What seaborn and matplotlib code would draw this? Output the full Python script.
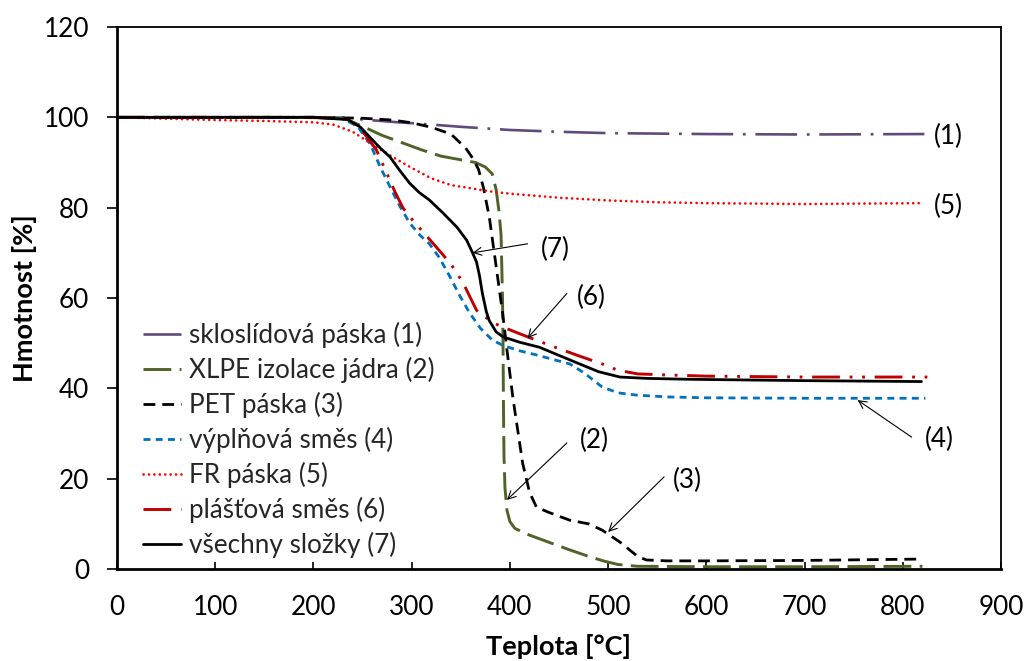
import matplotlib
matplotlib.use("Agg")
import matplotlib.pyplot as plt
import seaborn as sns
import pandas as pd

# ---------------- data ----------------
x1 = [0, 100, 200, 240, 280, 320, 350, 400, 450, 500, 600, 700, 822]
y1 = [100, 100, 99.9, 99.7, 99.0, 98.4, 97.9, 97.2, 96.8, 96.5, 96.3, 96.2, 96.3]

x2 = [0, 100, 200, 230, 250, 270, 290, 310, 330, 350, 365, 375, 382, 386, 389, 391,
      392.5, 393, 393.5, 394, 395, 397, 400, 405, 420, 435, 460, 480, 495, 510, 530,
      600, 700, 820]
y2 = [100, 100, 100, 99.9, 98.0, 96.0, 94.4, 92.8, 91.4, 90.6, 90.0, 89.0, 87.5, 84.0,
      79.0, 74.0, 60, 50, 35, 25, 18, 13, 10.5, 9.0, 7.5, 6.3, 4.3, 2.8, 1.8, 1.0, 0.6,
      0.5, 0.5, 0.6]

x3 = [0, 200, 250, 280, 300, 320, 340, 355, 362, 368, 373, 379, 386, 393, 397, 403,
      413, 420, 427, 440, 461, 480, 494, 505, 515, 522, 530, 539, 560, 600, 700, 820]
y3 = [100, 100, 99.8, 99.4, 98.8, 97.8, 96.3, 93.2, 91.0, 88.5, 84.5, 78, 67, 56, 48.5,
      38, 23.4, 17, 13.7, 12.5, 10.8, 10.0, 8.6, 7.0, 5.5, 4.2, 2.8, 2.0, 1.8, 1.8, 1.9, 2.2]

x4 = [0, 200, 230, 245, 258, 268, 278, 288, 298, 308, 318, 328, 339, 349, 359, 370, 382,
      393, 410, 427, 461, 475, 494, 510, 529, 560, 600, 700, 823]
y4 = [100, 100, 99.7, 98.0, 94, 89, 84.6, 80.3, 76.6, 74.0, 72, 69, 64.7, 60.5, 56.7,
      53.3, 50.7, 49.5, 48.3, 47.4, 45.4, 43.5, 40.3, 39.0, 38.5, 38.1, 37.9, 37.8, 37.8]

x5 = [0, 50, 100, 150, 200, 220, 240, 260, 280, 300, 320, 340, 360, 380, 400, 450, 500,
      550, 600, 700, 817]
y5 = [100, 99.7, 99.4, 99.2, 98.9, 98.4, 96.8, 94.0, 91.3, 88.8, 86.5, 85.0, 84.3, 83.6,
      83.1, 82.2, 81.6, 81.2, 81.0, 80.8, 81.0]

x6 = [0, 200, 230, 245, 255, 264, 275, 283, 291, 300, 310, 325, 340, 352, 366, 383, 397,
      418, 446, 470, 494, 510, 530, 555, 600, 700, 825]
y6 = [100, 100, 99.7, 98.2, 95.5, 92.8, 87.5, 83.5, 80, 77.5, 75, 71.3, 67.5, 63.5, 57.3,
      54.5, 53.2, 51.4, 49.1, 47.2, 45.4, 44.0, 43.2, 43.0, 42.7, 42.5, 42.5]

x7 = [0, 200, 235, 248, 257, 268, 278, 288, 298, 308, 318, 332, 346, 356, 362, 366, 369,
      372, 376, 379, 386, 393, 410, 430, 461, 490, 512, 540, 583, 700, 819]
y7 = [100, 100, 99.5, 97.8, 95.7, 93.2, 91.2, 88.2, 85.4, 83.3, 81.7, 78.8, 75.7, 72.8,
      70.0, 68.0, 65.0, 61.0, 57.0, 55.0, 52.5, 51.4, 50.2, 49.1, 46.3, 43.7, 42.5, 42.2,
      42.0, 41.7, 41.5]

labels = ["skloslídová páska (1)", "XLPE izolace jádra (2)", "PET páska (3)",
          "výplňová směs (4)", "FR páska (5)", "plášťová směs (6)", "všechny složky (7)"]
colors = ["#604A7B", "#4F6228", "#000000", "#0070C0", "#FF0000", "#C00000", "#000000"]
styles = [(0, (30, 7, 2, 7)), (0, (20, 6)), (0, (8.5, 5)), (0, (5, 3.8)),
          (0, (0.1, 3.8)), (0, (20, 7, 2, 7, 2, 7)), "-"]
widths = [1.9, 2.1, 2.0, 2.0, 1.9, 2.1, 2.0]

ann_text = ["(1)", "(5)", "(7)", "(6)", "(2)", "(3)", "(4)"]
ann_text_xy = [(846, 95.8), (846, 80.3), (446, 70.8), (483, 60.2), (486, 28.5),
               (581, 19.7), (837, 28.6)]
ann_arrow_tip = [None, None, (362, 70), (418, 51.1), (397, 15.3), (500, 8.2), (754, 37.4)]
ann_arrow_start = [None, None, (418, 72), (458, 61), (458, 27.9), (557, 20.4), (809, 29.2)]

xs = [x1, x2, x3, x4, x5, x6, x7]
ys = [y1, y2, y3, y4, y5, y6, y7]

# ---------------- plotting ----------------
sns.set_theme(style="white")
plt.rcParams["font.family"] = ["Lato", "DejaVu Sans"]
plt.rcParams["lines.scale_dashes"] = False

FS = 18.8

fig = plt.figure(figsize=(10.27, 6.61), dpi=100)
ax = fig.add_axes([117 / 1027, 1 - 569 / 661, (1001 - 117) / 1027, (569 - 27) / 661])

for x, y, lab, c, ls, lw in zip(xs, ys, labels, colors, styles, widths):
    df = pd.DataFrame({"T": x, "m": y})
    sns.lineplot(data=df, x="T", y="m", ax=ax, color=c, linestyle=ls, linewidth=lw,
                 label=lab, estimator=None, sort=False,
                 dash_capstyle="round" if lab.startswith("FR") else "butt")

ax.set_xlim(0, 900)
ax.set_ylim(0, 120)
ax.set_xticks(range(0, 901, 100))
ax.set_yticks(range(0, 121, 20))
ax.tick_params(axis="x", direction="in", length=5, width=1.2, labelsize=FS, pad=19,
               colors="black", bottom=True)
ax.tick_params(axis="y", direction="out", length=7, width=1.2, labelsize=FS, pad=13,
               colors="black", left=True)
for s in ["left", "bottom"]:
    ax.spines[s].set_linewidth(2.0)
    ax.spines[s].set_color("black")
for s in ["top", "right"]:
    ax.spines[s].set_linewidth(1.3)
    ax.spines[s].set_color("black")

ax.set_xlabel("Teplota [°C]", fontsize=19.5, fontweight="bold", labelpad=10, color="black")
ax.set_ylabel("Hmotnost [%]", fontsize=19.5, fontweight="bold", labelpad=5, color="black")

for t, txy, tip, st in zip(ann_text, ann_text_xy, ann_arrow_tip, ann_arrow_start):
    ax.text(txy[0], txy[1], t, fontsize=FS, ha="center", va="center", color="black")
    if tip is not None:
        ax.annotate("", xy=tip, xytext=st,
                    arrowprops=dict(arrowstyle="->", color="black", lw=0.8,
                                    shrinkA=0, shrinkB=0, mutation_scale=14))

leg = ax.legend(loc="upper left", bbox_to_anchor=(0.0294, 0.455), frameon=False,
                fontsize=FS, handlelength=1.45, handletextpad=0.3,
                labelspacing=0.34, borderaxespad=0, borderpad=0)

fig.savefig("out.png", dpi=100, facecolor="white")
